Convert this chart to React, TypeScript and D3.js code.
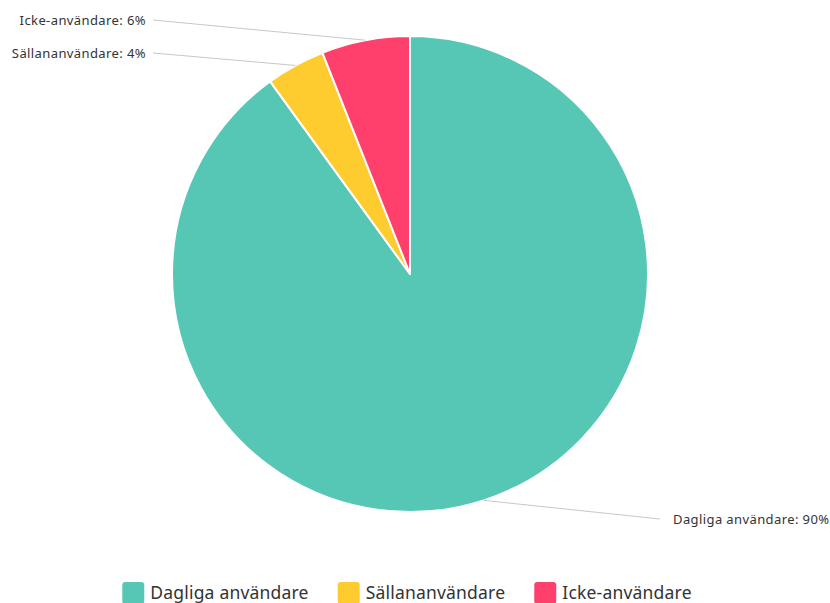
import React, { useEffect, useRef } from "react";
import * as d3 from "d3";

const categories = ["Dagliga användare", "Sällananvändare", "Icke-användare"];
const values = [90, 4, 6];
const colors = ["#57C7B5", "#FFCC30", "#FF406C"];
// label end-point layout (x, y) for each slice
const labelAnchors: [number, number][] = [
  [660, 519],
  [153, 53],
  [153, 20],
];

const W = 830;
const H = 603;
const FONT = "'Noto Sans', 'Open Sans', sans-serif";

export default function App() {
  const ref = useRef<SVGSVGElement | null>(null);

  useEffect(() => {
    const svg = d3.select(ref.current);
    svg.selectAll("*").remove();
    const cx = 410;
    const cy = 274;
    const r = 238;

    const data = categories.map((c, i) => ({ name: c, value: values[i], color: colors[i], anchor: labelAnchors[i] }));
    const pie = d3.pie<any>().value((d) => d.value).sort(null);
    const arcs = pie(data);
    const arc = d3.arc<any>().innerRadius(0).outerRadius(r);

    const g = svg.append("g").attr("transform", `translate(${cx},${cy})`);
    g.selectAll("path.slice")
      .data(arcs)
      .join("path")
      .attr("class", "slice")
      .attr("d", arc as any)
      .attr("fill", (d: any) => d.data.color)
      .attr("stroke", "#fff")
      .attr("stroke-width", 2)
      .attr("stroke-linejoin", "round");

    // label lines + text
    arcs.forEach((a: any) => {
      const mid = (a.startAngle + a.endAngle) / 2;
      const sx = cx + r * Math.sin(mid);
      const sy = cy - r * Math.cos(mid);
      const [ex, ey] = a.data.anchor;
      svg
        .append("line")
        .attr("x1", sx)
        .attr("y1", sy)
        .attr("x2", ex)
        .attr("y2", ey)
        .attr("stroke", "#c8c8c8")
        .attr("stroke-width", 1);
      const right = ex > cx;
      svg
        .append("text")
        .attr("x", right ? ex + 13 : ex - 7)
        .attr("y", ey)
        .attr("dy", "0.35em")
        .attr("text-anchor", right ? "start" : "end")
        .attr("font-family", FONT)
        .attr("font-size", 13)
        .attr("letter-spacing", 0.4)
        .attr("fill", "#333")
        .text(`${a.data.name}: ${a.data.value}%`);
    });

    // legend
    const legend = svg.append("g");
    const sq = 22;
    const gapText = 6;
    const gapItem = 29;
    let x = 0;
    data.forEach((d) => {
      const it = legend.append("g");
      it.append("rect")
        .attr("x", 0)
        .attr("y", -sq / 2)
        .attr("width", sq)
        .attr("height", sq)
        .attr("rx", 3)
        .attr("fill", d.color);
      const t = it
        .append("text")
        .attr("x", sq + gapText)
        .attr("y", 0)
        .attr("dy", "0.35em")
        .attr("font-family", FONT)
        .attr("font-size", 17.5)
        .attr("letter-spacing", 0.2)
        .attr("fill", "#333")
        .text(d.name);
      const tw = (t.node() as SVGTextElement).getComputedTextLength();
      it.attr("transform", `translate(${x},0)`);
      x += sq + gapText + tw + gapItem;
    });
    const total = x - gapItem;
    legend.attr("transform", `translate(${(W - total) / 2 - 8},${593})`);
  }, []);

  return (
    <svg
      ref={ref}
      width={W}
      height={H}
      style={{ position: "absolute", left: 0, top: 0, background: "#fff" }}
    />
  );
}
